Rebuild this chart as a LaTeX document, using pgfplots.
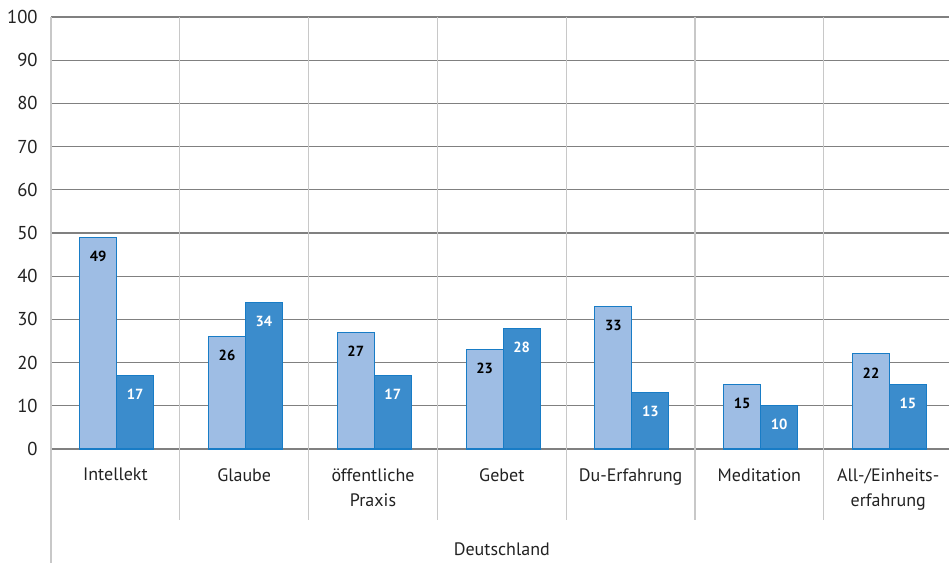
\documentclass[border=0pt]{standalone}
\usepackage{fontspec}
\setmainfont{PT Sans}
\usepackage{pgfplots}
\pgfplotsset{compat=1.18}

\definecolor{lightbar}{RGB}{158,189,228}
\definecolor{darkbar}{RGB}{59,140,204}
\definecolor{baredge}{RGB}{24,124,198}
\definecolor{gridgray}{RGB}{128,128,128}
\definecolor{sepgray}{RGB}{200,200,200}
\definecolor{txt}{RGB}{34,34,34}

\begin{document}
\begin{tikzpicture}
\begin{axis}[
  name=ax,
  ybar,
  scale only axis,
  width=676.2pt, height=324pt,
  xmin=-0.5, xmax=6.5,
  ymin=0, ymax=100,
  clip=false,
  axis line style={draw=none},
  major tick length=0pt,
  ytick={0,10,...,100},
  ymajorgrids,
  major grid style={gridgray, line width=0.9pt},
  xtick={0,...,6},
  xticklabels={Intellekt, Glaube, {öffentliche\\Praxis}, Gebet, Du-Erfahrung, Meditation, {All-/Einheits-\\erfahrung}},
  xticklabel style={align=center, font=\fontsize{13.5}{18.75}\selectfont, text=txt, yshift=-11pt},
  yticklabel style={font=\fontsize{14}{16}\selectfont, text=txt, xshift=-6.5pt},
  /pgf/number format/assume math mode=true,
  bar width=0.287,
  nodes near coords,
  every node near coord/.append style={font=\fontsize{11}{12}\selectfont\bfseries, anchor=center, yshift=-14.25pt},
]
% vertical separators between the categories
\pgfplotsinvokeforeach{0.5,1.5,...,5.5}{
  \draw[sepgray, line width=0.8pt] (axis cs:#1,100) -- ([yshift=-53.25pt]axis cs:#1,0);
}
\draw[sepgray, line width=0.8pt] (axis cs:-0.5,100) -- ([yshift=-85.5pt]axis cs:-0.5,0);

\addplot[bar shift=-0.1335, fill=lightbar, draw=baredge, line width=0.8pt,
  every node near coord/.append style={text=black}]
  coordinates {(0,49) (1,26) (2,27) (3,23) (4,33) (5,15) (6,22)};
\addplot[bar shift=0.1535, fill=darkbar, draw=baredge, line width=0.8pt,
  every node near coord/.append style={text=white}]
  coordinates {(0,17) (1,34) (2,17) (3,28) (4,13) (5,10) (6,15)};

\node[font=\fontsize{13.5}{16}\selectfont, text=txt] at ([yshift=-75pt]axis cs:3,0) {Deutschland};
\end{axis}
\pgfresetboundingbox
\path[use as bounding box] ([xshift=-38.25pt,yshift=-85.5pt]ax.south west) rectangle ([xshift=-2.7pt,yshift=12.75pt]ax.north east);
\end{tikzpicture}
\end{document}
